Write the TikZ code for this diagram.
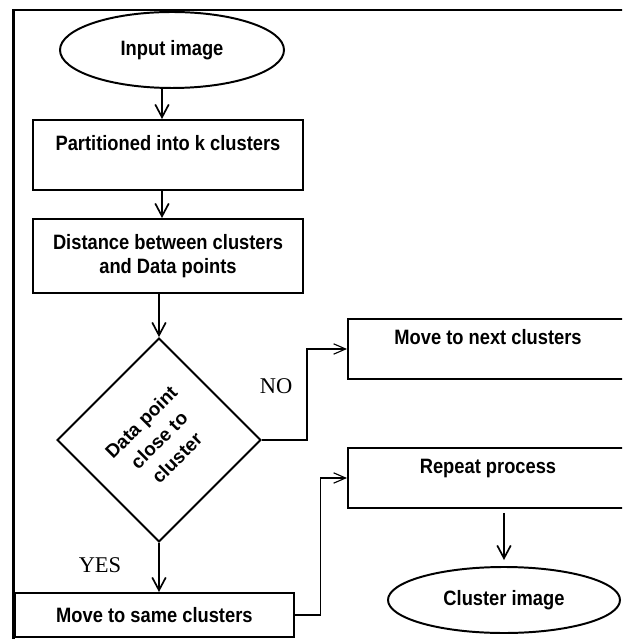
\documentclass[tikz,border=0pt]{standalone}
\usepackage{fontspec}
\setmainfont[FakeStretch=0.88]{Liberation Sans}
\newfontfamily\plainsans{Liberation Sans}
\newfontfamily\yesnofont{Liberation Serif}
\usetikzlibrary{arrows.meta}
\usetikzlibrary{shapes.geometric}
\tikzset{box/.style = {draw, line width = 1.4pt, inner sep = 0, align = center,
                       font = \fontsize{14.8}{17}\selectfont\bfseries}}
\tikzset{oval/.style = {box, ellipse}}
\tikzset{arr/.style = {line width = 1.2pt,
                       -{Straight Barb[length = 3.2mm, width = 3.4mm]}}}
\tikzset{thinarr/.style = {line width = 0.8pt,
                           -{Straight Barb[length = 3mm, width = 2.6mm]}}}
\tikzset{yn/.style = {font = \yesnofont\fontsize{16}{16}\selectfont}}

\begin{document}
\begin{tikzpicture}
    \useasboundingbox (0, 0) rectangle (15.55, -15.975);
    \clip (0, 0) rectangle (15.55, -15.975);
    \draw [line width = 2pt] (0.33, -17) rectangle (17, -0.25);

    \coordinate (spine) at (4.05, 0);
    \node [oval, minimum width = 5.6cm, minimum height = 1.9cm] (inimg) at (4.3, -1.25) {Input image};
    \node [box, minimum width = 6.75cm, minimum height = 1.75cm] (part) at (4.2, -3.875)
      {Partitioned into k clusters\\~};
    \node [box, minimum width = 6.75cm, minimum height = 1.85cm] (dist) at (4.2, -6.4)
      {Distance between clusters\\and Data points};
    \node [box, rotate = 45, minimum size = 3.59cm,
           font = \plainsans\fontsize{13.5}{18}\selectfont\bfseries] (chk) at (3.975, -11.0)
      {Data point\\close to\\cluster};
    \node [box, minimum width = 6.975cm, minimum height = 1.1cm] (same) at (3.86, -15.375)
      {Move to same clusters};
    \node [box, minimum width = 7cm, minimum height = 1.5cm] (next) at (12.2, -8.725)
      {Move to next clusters\\~};
    \node [box, minimum width = 7cm, minimum height = 1.5cm] (rep) at (12.2, -11.95)
      {Repeat process\\~};
    \node [oval, minimum width = 5.8cm, minimum height = 1.65cm] (outimg) at (12.6, -15.0)
      {Cluster image};

    \node [yn] (no) at (6.9, -9.65) {NO};
    \node [yn] (yes) at (2.5, -14.125) {YES};

    \draw [arr] (inimg.south -| spine) -- (part.north -| spine);
    \draw [arr] (part.south -| spine) -- (dist.north -| spine);
    \draw [arr] (dist.south -| chk.north east) -- (chk.north east);
    \draw [arr] (chk.south west) -- (chk.south west |- same.north);
    \draw [thinarr] (chk.south east) -- ++(1.125, 0) |- (next.west);
    \draw [thinarr] (same.east) -- ++(0.65, 0) |- (rep.west);
    \draw [arr, shorten <= 0.1cm, shorten >= 0.15cm] (rep.south -| outimg.north) -- (outimg.north);
  \end{tikzpicture}
\end{document}
